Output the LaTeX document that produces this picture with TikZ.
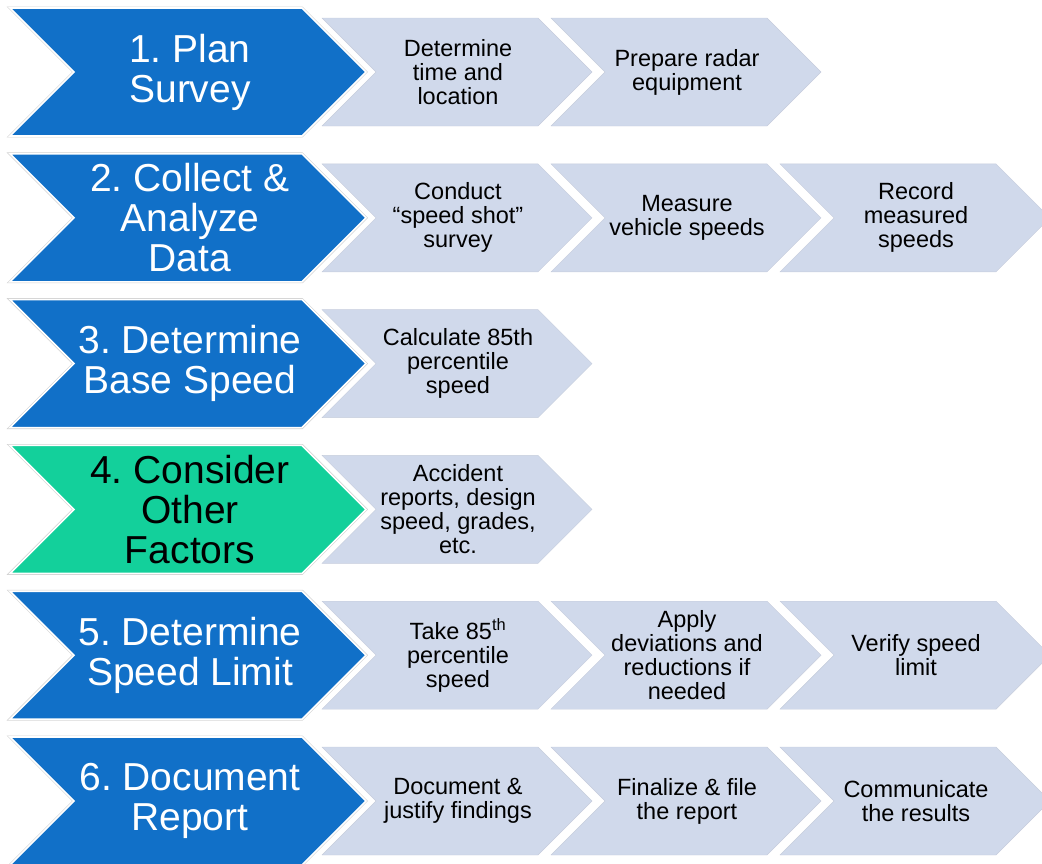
\documentclass[tikz,border=0pt]{standalone}
\usepackage{fontspec}
\setmainfont{Liberation Sans}
\frenchspacing
\definecolor{bigblue}{RGB}{17,112,200}
\definecolor{biggreen}{RGB}{19,208,155}
\definecolor{lightfill}{RGB}{208,217,235}
\definecolor{lightedge}{RGB}{198,205,220}
\tikzset{
  bigshape/.style={preaction={draw=black!18, line width=2.8pt, line join=miter}, draw=white, line width=1.6pt, line join=miter},
  lightshape/.style={fill=lightfill, draw=lightedge, line width=0.4pt, line join=miter},
  bigtext/.style={align=center, inner sep=0pt, font=\fontsize{39}{40}\selectfont},
  lighttext/.style={align=center, inner sep=0pt, text=black, font=\fontsize{23.5}{24}\selectfont},
}
\newcommand\BigChev[5]{%
  \path[bigshape, fill=#3] (10,#2) -- ++(292,0) -- ++(64,64) -- ++(-64,64) -- ++(-292,0) -- ++(64,-64) -- cycle;
  \node[bigtext, text=#4] (#1) at (190,#2+64) {#5};
}
\newcommand\LightChev[4]{%
  \path[lightshape] (#2,#3-54) -- ++(216,0) -- ++(54,54) -- ++(-54,54) -- ++(-216,0) -- ++(54,-54) -- cycle;
  \node[lighttext] (#1) at (#2+136,#3) {#4};
}
\begin{document}
\begin{tikzpicture}[x=1pt,y=-1pt]
\useasboundingbox (0,0) rectangle (1042,863);
\clip (0,0) rectangle (1042,863);
% Row 1
\LightChev{l11}{322}{72}{Determine\\time and\\location}
\LightChev{l12}{551}{72}{Prepare radar\\equipment}
\BigChev{b1}{8}{bigblue}{white}{1. Plan\\Survey}
% Row 2
\LightChev{l21}{322}{217.8}{Conduct\\“speed shot”\\survey}
\LightChev{l22}{551}{217.8}{Measure\\vehicle speeds}
\LightChev{l23}{780}{217.8}{Record\\measured\\speeds}
\BigChev{b2}{153.8}{bigblue}{white}{2. Collect \&\\Analyze\\Data}
% Row 3
\LightChev{l31}{322}{363.6}{Calculate 85th\\percentile\\speed}
\BigChev{b3}{299.6}{bigblue}{white}{3. Determine\\Base Speed}
% Row 4
\LightChev{l41}{322}{509.4}{Accident\\reports, design\\speed, grades,\\etc.}
\BigChev{b4}{445.4}{biggreen}{black}{4. Consider\\Other\\Factors}
% Row 5
\LightChev{l51}{322}{655.2}{Take 85\textsuperscript{th}\\percentile\\speed}
\LightChev{l52}{551}{655.2}{Apply\\deviations and\\reductions if\\needed}
\LightChev{l53}{780}{655.2}{Verify speed\\limit}
\BigChev{b5}{591.2}{bigblue}{white}{5. Determine\\Speed Limit}
% Row 6
\LightChev{l61}{322}{801}{Document \&\\justify findings}
\LightChev{l62}{551}{801}{Finalize \& file\\the report}
\LightChev{l63}{780}{801}{Communicate\\the results}
\BigChev{b6}{737}{bigblue}{white}{6. Document\\Report}
\end{tikzpicture}
\end{document}
